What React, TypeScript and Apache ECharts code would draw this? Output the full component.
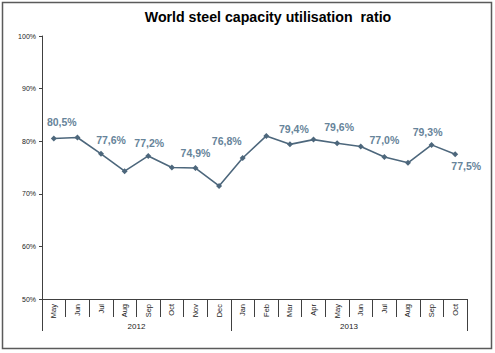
import React, { useEffect, useRef } from "react";
import * as echarts from "echarts";

const months = [
  "May", "Jun", "Jul", "Aug", "Sep", "Oct", "Nov", "Dec",
  "Jan", "Feb", "Mar", "Apr", "May", "Jun", "Jul", "Aug", "Sep", "Oct",
];
const utilisation = [
  80.5, 80.7, 77.6, 74.3, 77.2, 75.0, 74.9, 71.5,
  76.8, 81.0, 79.4, 80.3, 79.6, 79.0, 77.0, 75.9, 79.3, 77.5,
];
const labelledIndices = [0, 2, 4, 6, 8, 10, 12, 14, 16, 17];
const labelOffsets: [number, number][] = [
  [8, -17], [10, -14], [1, -13], [0, -15], [-16, -17],
  [4, -15], [2, -16], [0, -17], [-4, -13], [11, 12],
];
const years = ["2012", "2013"];
const yearBoundaries = [0, 8, 18];
const yearCenters = [4, 13];
const yTicks = { min: 50, max: 100, interval: 10 };
const title = "World steel capacity utilisation  ratio";

const fmt = (v: number) => v.toFixed(1).replace(".", ",") + "%";

export default function App() {
  const ref = useRef<HTMLDivElement>(null);
  useEffect(() => {
    if (!ref.current) return;
    const chart = echarts.init(ref.current, undefined, { renderer: "svg" });
    const data = utilisation.map((v, i) => {
      const k = labelledIndices.indexOf(i);
      if (k < 0) return { value: v };
      return {
        value: v,
        label: {
          show: true,
          position: "inside",
          offset: labelOffsets[k],
          formatter: () => fmt(v),
        },
      };
    });
    const font = "'Liberation Sans', Arial, sans-serif";
    chart.setOption({
      animation: false,
      textStyle: { fontFamily: font },
      graphic: [
        {
          type: "rect",
          shape: { x: 2.5, y: 2.5, width: 489, height: 346 },
          style: { fill: "none", stroke: "#5a5a5a", lineWidth: 1.5 },
          silent: true,
        },
        {
          type: "text",
          x: 268,
          y: 17,
          style: {
            text: title,
            fontFamily: font,
            fontSize: 14.2,
            fontWeight: "bold",
            fill: "#000",
            align: "center",
            verticalAlign: "middle",
          },
        },
      ],
      grid: { left: 42, right: 28, top: 36, bottom: 54, containLabel: false },
      xAxis: [
        {
          type: "category",
          data: months,
          boundaryGap: true,
          axisLine: { lineStyle: { color: "#404040", width: 1 } },
          axisTick: { show: true, interval: 0, length: 18, lineStyle: { color: "#404040" } },
          axisLabel: {
            interval: 0,
            rotate: 90,
            fontSize: 7.5,
            color: "#222",
            margin: 5,
            fontFamily: font,
          },
          splitLine: { show: false },
        },
        {
          type: "value",
          min: 0,
          max: 18,
          position: "bottom",
          axisLine: { show: false },
          axisTick: {
            show: true,
            customValues: yearBoundaries,
            length: 32,
            lineStyle: { color: "#404040" },
          },
          axisLabel: {
            show: true,
            customValues: yearCenters,
            formatter: (v: number) => years[yearCenters.indexOf(v)] ?? "",
            fontSize: 8,
            color: "#222",
            margin: 23,
            fontFamily: font,
          },
          splitLine: { show: false },
        },
      ],
      yAxis: {
        type: "value",
        min: yTicks.min,
        max: yTicks.max,
        interval: yTicks.interval,
        axisLine: { show: true, lineStyle: { color: "#404040", width: 1 } },
        axisTick: { show: true, length: 3, lineStyle: { color: "#404040" } },
        axisLabel: {
          formatter: "{value}%",
          fontSize: 7,
          color: "#222",
          margin: 6,
          fontFamily: font,
        },
        splitLine: { show: false },
      },
      series: [
        {
          type: "line",
          xAxisIndex: 0,
          data,
          symbol: "diamond",
          symbolSize: 6,
          lineStyle: { color: "#4d677c", width: 1.6 },
          itemStyle: { color: "#4d677c" },
          label: {
            show: false,
            fontSize: 10.5,
            fontWeight: "bold",
            color: "#67849a",
            fontFamily: font,
          },
        },
      ],
    });
    return () => chart.dispose();
  }, []);
  return (
    <div
      ref={ref}
      style={{ position: "absolute", left: 0, top: 0, width: 495, height: 353, background: "#fff" }}
    />
  );
}
